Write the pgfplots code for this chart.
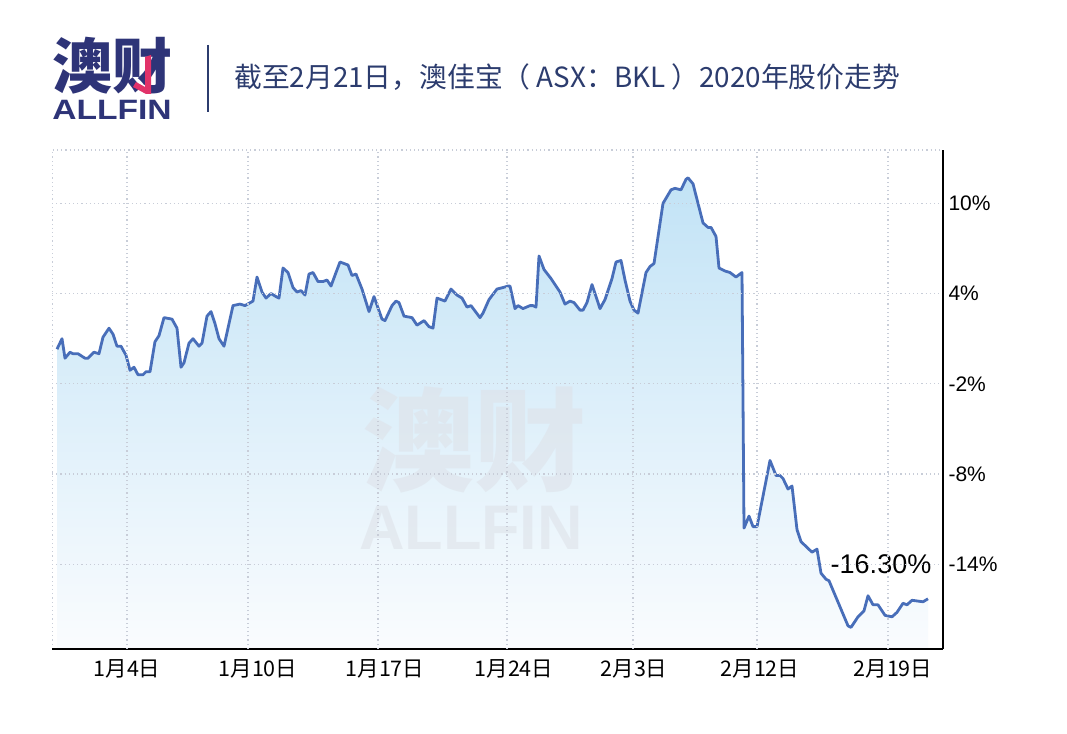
\documentclass[border=0pt]{standalone}
\usepackage{fontspec}
\setmainfont{Liberation Sans}
\newfontfamily\cjk{Noto Sans CJK SC}
\usepackage{pgfplots}
\usepackage{pgfplotstable}
\pgfplotsset{compat=1.18}

\definecolor{navy}{RGB}{44,60,110}
\definecolor{logoblue}{RGB}{46,52,120}
\definecolor{logopink}{RGB}{225,50,105}
\definecolor{linecol}{RGB}{72,110,185}
\definecolor{filltop}{RGB}{194,227,246}
\definecolor{fillbot}{RGB}{250,252,254}
\definecolor{gridcol}{RGB}{200,205,216}
\definecolor{wmark}{RGB}{222,226,233}

% % change since 1 Jan 2020, x = position on the time axis
\pgfplotstableread{
x y
57 0.3
62 1.0
65 -0.3
70 0.1
73 0.0
78 0.0
85 -0.3
88 -0.3
94 0.1
99 0.0
103 1.1
109 1.7
113 1.3
117 0.5
121 0.5
126 -0.1
130 -1.1
134 -0.9
138 -1.4
143 -1.4
146 -1.2
150 -1.2
155 0.8
159 1.2
164 2.4
172 2.3
177 1.7
181 -0.9
184 -0.6
189 0.7
193 1.0
199 0.5
202 0.7
207 2.5
211 2.8
215 2.0
219 1.0
224 0.5
233 3.2
240 3.3
245 3.2
253 3.5
257 5.1
262 4.1
266 3.7
271 4.0
276 3.8
279 3.7
283 5.7
288 5.4
293 4.4
297 4.1
301 4.2
305 3.9
309 5.3
313 5.4
318 4.8
323 4.8
327 4.9
331 4.5
336 5.4
340 6.1
348 5.9
352 5.2
356 5.3
362 4.3
369 2.8
374 3.8
382 2.3
385 2.2
392 3.2
396 3.5
399 3.4
404 2.5
412 2.4
417 1.9
424 2.2
429 1.8
433 1.7
437 3.7
445 3.5
451 4.3
457 3.9
462 3.7
467 3.1
471 3.2
480 2.4
483 2.7
489 3.6
497 4.3
503 4.4
508 4.5
510 4.5
515 3.0
518 3.2
523 3.0
530 3.2
533 3.2
536 3.1
539 6.5
544 5.6
551 5.0
556 4.5
560 4.1
565 3.3
570 3.5
574 3.4
580 2.9
583 2.9
587 3.4
592 4.6
600 3.0
605 3.6
612 5.0
616 6.1
621 6.2
625 4.9
630 3.5
634 2.9
638 2.7
646 5.4
650 5.8
654 6.0
663 10.0
671 10.9
675 11.0
681 10.9
686 11.6
688 11.7
693 11.3
703 8.7
708 8.4
711 8.4
716 7.8
719 5.7
725 5.5
730 5.4
736 5.1
742 5.4
744 -11.6
749 -10.8
753 -11.5
757 -11.5
770 -7.1
776 -8.1
780 -8.1
783 -8.3
788 -9.0
792 -8.8
797 -11.7
801 -12.5
812 -13.2
817 -13.0
821 -14.6
826 -15.0
829 -15.1
848 -18.1
851 -18.2
858 -17.5
864 -17.1
868 -16.1
873 -16.7
878 -16.7
885 -17.4
892 -17.5
897 -17.2
903 -16.6
907 -16.7
912 -16.4
923 -16.5
928 -16.3
}\stock

\begin{document}
\begin{tikzpicture}[x=1pt,y=1pt]
\fill[white] (0,0) rectangle (1067,733);

% logo
\node[text=logoblue, font=\cjk\bfseries\fontsize{60}{60}\selectfont, inner sep=0pt] at (112,667) {澳财};
\fill[logopink] (145,676) -- (151,678) -- (151,639) -- (146,639) -- (133,646) -- (136,651) -- (145,646) -- cycle;
\node[text=logoblue, font=\bfseries\fontsize{28}{28}\selectfont, inner sep=0pt, xscale=1.2] at (112,623) {ALLFIN};
\draw[navy, line width=2pt] (208,688) -- (208,621);
\node[anchor=west, text=navy, font=\cjk\fontsize{27.8}{31}\selectfont, inner sep=0pt] at (234,656)
  {截至2月21日，澳佳宝（ ASX：BKL ）2020年股价走势};

\begin{axis}[
  at={(52pt,84pt)}, anchor=south west,
  width=891pt, height=499pt, scale only axis,
  xmin=52, xmax=943, ymin=-19.64, ymax=13.55,
  axis on top,
  axis x line*=bottom, axis y line*=right,
  axis line style={line width=2pt, black},
  major tick length=0pt,
  xtick={127,258,385,514,634,760,893},
  xticklabels={1月4日,1月10日,1月17日,1月24日,2月3日,2月12日,2月19日},
  xticklabel style={font=\cjk\fontsize{21.5}{21.5}\selectfont, yshift=-7pt},
  extra x ticks={127,248,378,507,633,757,888},
  extra x tick labels={},
  extra x tick style={grid=major},
  ytick={-14,-8,-2,4,10},
  yticklabel={\pgfmathprintnumber{\tick}\%},
  yticklabel style={font=\fontsize{21}{21}\selectfont, xshift=2pt},
  /pgf/number format/assume math mode=true,
  xmajorgrids=false, ymajorgrids=true,
  major grid style={draw=gridcol, line width=1.2pt, dash pattern=on 1.2pt off 3pt},
]
\addplot[draw=none, top color=filltop, bottom color=fillbot] table {\stock}
  -- (axis cs:928,-19.64) -- (axis cs:57,-19.64) -- cycle;

\node[text=wmark, opacity=0.6, font=\cjk\bfseries\fontsize{112}{112}\selectfont] at (axis cs:474,-5.7) {澳财};
\node[text=wmark, opacity=0.6, font=\bfseries\fontsize{63}{63}\selectfont] at (axis cs:471,-11.6) {ALLFIN};

\addplot[linecol, line width=2.8pt, line join=round] table {\stock};

\draw[draw=gridcol, line width=1.2pt, dash pattern=on 1.2pt off 3pt]
  (rel axis cs:0,0) -- (rel axis cs:0,1) -- (rel axis cs:1,1);

\node[font=\fontsize{27}{27}\selectfont] at (axis cs:881,-14.0) {-16.30\%};
\end{axis}
\end{tikzpicture}
\end{document}
